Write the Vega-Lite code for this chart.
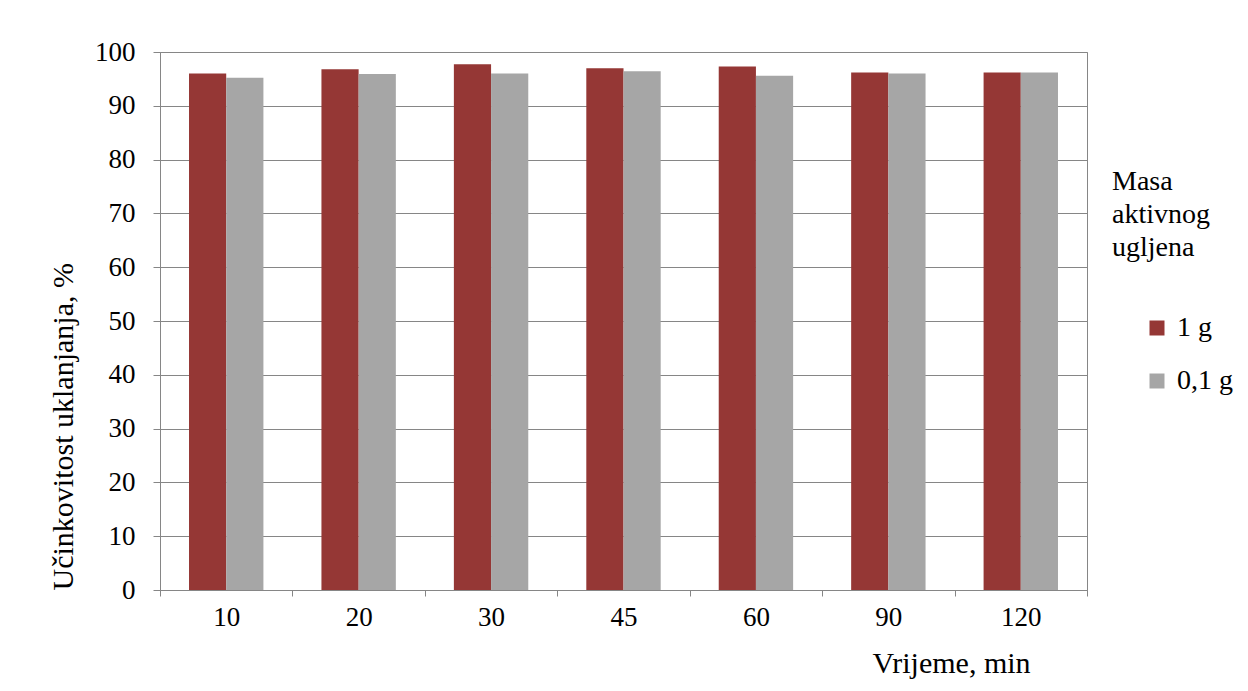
{
  "$schema": "https://vega.github.io/schema/vega-lite/v6.json",
  "autosize": "none",
  "width": 927,
  "height": 538,
  "padding": {"left": 160, "top": 52, "right": 161, "bottom": 101},
  "background": "white",
  "data": {
    "values": [
      {"vrijeme": "10", "masa": "1 g", "u": 96.0},
      {"vrijeme": "10", "masa": "0,1 g", "u": 95.2},
      {"vrijeme": "20", "masa": "1 g", "u": 96.8},
      {"vrijeme": "20", "masa": "0,1 g", "u": 95.9},
      {"vrijeme": "30", "masa": "1 g", "u": 97.7},
      {"vrijeme": "30", "masa": "0,1 g", "u": 96.0},
      {"vrijeme": "45", "masa": "1 g", "u": 97.0},
      {"vrijeme": "45", "masa": "0,1 g", "u": 96.4},
      {"vrijeme": "60", "masa": "1 g", "u": 97.3},
      {"vrijeme": "60", "masa": "0,1 g", "u": 95.6},
      {"vrijeme": "90", "masa": "1 g", "u": 96.2},
      {"vrijeme": "90", "masa": "0,1 g", "u": 96.0},
      {"vrijeme": "120", "masa": "1 g", "u": 96.2},
      {"vrijeme": "120", "masa": "0,1 g", "u": 96.2}
    ]
  },
  "mark": {"type": "bar", "stroke": null},
  "encoding": {
    "x": {
      "field": "vrijeme",
      "type": "nominal",
      "sort": ["10", "20", "30", "45", "60", "90", "120"],
      "scale": {"paddingInner": 0, "paddingOuter": 0},
      "axis": {
        "title": "Vrijeme, min",
        "labelAngle": 0,
        "tickBand": "extent",
        "grid": false,
        "domainColor": "#868686",
        "tickColor": "#868686",
        "tickSize": 6,
        "labelPadding": 8,
        "titleX": 791,
        "titleY": 82,
        "titleAlign": "center",
        "titleBaseline": "alphabetic"
      }
    },
    "xOffset": {
      "field": "masa",
      "type": "nominal",
      "sort": ["1 g", "0,1 g"],
      "scale": {"paddingInner": 0, "paddingOuter": 0.78}
    },
    "y": {
      "field": "u",
      "type": "quantitative",
      "scale": {"domain": [0, 100], "nice": false},
      "axis": {
        "title": "Učinkovitost uklanjanja, %",
        "titleAnchor": "start",
        "values": [0, 10, 20, 30, 40, 50, 60, 70, 80, 90, 100],
        "grid": true,
        "gridColor": "#868686",
        "domainColor": "#868686",
        "tickColor": "#868686",
        "tickSize": 7,
        "labelPadding": 18,
        "titlePadding": 16
      }
    },
    "color": {
      "field": "masa",
      "type": "nominal",
      "sort": ["1 g", "0,1 g"],
      "scale": {"domain": ["1 g", "0,1 g"], "range": ["#953735", "#A6A6A6"]},
      "legend": {
        "title": ["Masa", "aktivnog", "ugljena"],
        "orient": "none",
        "legendX": 952,
        "legendY": 116,
        "symbolType": "square",
        "symbolSize": 225,
        "symbolStrokeWidth": 0,
        "symbolOffset": 31,
        "titlePadding": 52,
        "rowPadding": 25,
        "labelOffset": 6
      }
    }
  },
  "config": {
    "font": "Liberation Serif, Times New Roman, serif",
    "view": {"stroke": "#868686"},
    "axis": {
      "labelFont": "Liberation Serif, Times New Roman, serif",
      "titleFont": "Liberation Serif, Times New Roman, serif",
      "labelFontSize": 27,
      "titleFontSize": 30,
      "labelColor": "black",
      "titleColor": "black",
      "titleFontWeight": "normal"
    },
    "legend": {
      "labelFont": "Liberation Serif, Times New Roman, serif",
      "titleFont": "Liberation Serif, Times New Roman, serif",
      "labelFontSize": 28,
      "titleFontSize": 28,
      "labelColor": "black",
      "titleColor": "black",
      "titleFontWeight": "normal",
      "titleLineHeight": 33
    }
  }
}
